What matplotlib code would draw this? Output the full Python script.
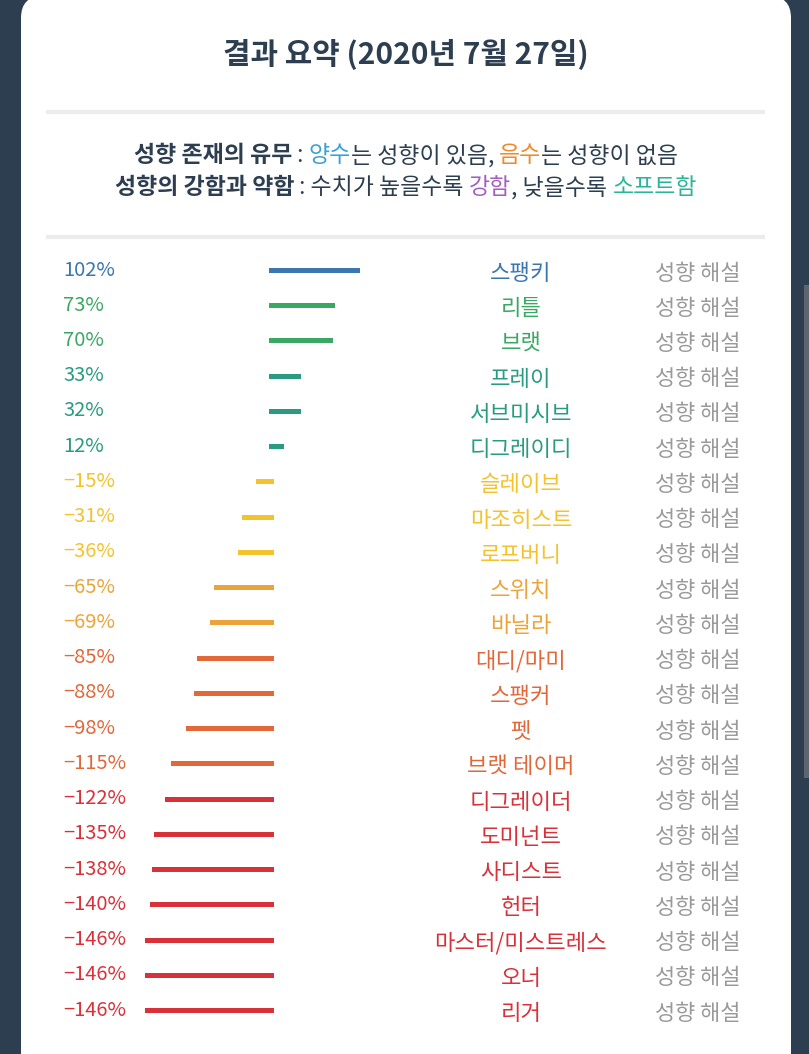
import matplotlib
matplotlib.use('Agg')
import matplotlib.pyplot as plt
import matplotlib.transforms as mtransforms
from matplotlib.patches import FancyBboxPatch, Rectangle

plt.rcParams['font.family'] = ['Noto Sans CJK KR', 'DejaVu Sans']

W, H = 809, 1054

title = '결과 요약 (2020년 7월 27일)'
names = ['스팽키', '리틀', '브랫', '프레이', '서브미시브', '디그레이디',
         '슬레이브', '마조히스트', '로프버니', '스위치', '바닐라',
         '대디/마미', '스팽커', '펫', '브랫 테이머', '디그레이더',
         '도미넌트', '사디스트', '헌터', '마스터/미스트레스', '오너', '리거']
values = [102, 73, 70, 33, 32, 12, -15, -31, -36, -65, -69,
          -85, -88, -98, -115, -122, -135, -138, -140, -146, -146, -146]
link_text = '성향 해설'

# colour per row (style, not data)
blue, green, teal = '#3a77ae', '#3aa862', '#2a9a82'
yellow, amber, orange, red = '#f3c22c', '#eba43a', '#e2683a', '#d8313a'
row_colors = [blue, green, green, teal, teal, teal,
              yellow, yellow, yellow, amber, amber,
              orange, orange, orange, orange,
              red, red, red, red, red, red, red]

navy = '#2c3e50'

fig = plt.figure(figsize=(W / 100, H / 100), dpi=100)
fig.patch.set_facecolor(navy)

# background axes in pixel coordinates
bg = fig.add_axes([0, 0, 1, 1])
bg.set_xlim(0, W)
bg.set_ylim(H, 0)
bg.axis('off')

bg.add_patch(FancyBboxPatch((21, -4), 770, 1100,
                            boxstyle='round,pad=0,rounding_size=22',
                            fc='white', ec='none'))
bg.add_patch(Rectangle((804, 285), 5, 493, fc='#5d6570', ec='none'))

bg.text(406, 55, title, ha='center', va='center', fontsize=21.5,
        fontweight='bold', color=navy)

for yy in (112, 237):
    bg.plot([46, 765], [yy, yy], color='#ececec', lw=3, solid_capstyle='butt')

renderer = fig.canvas.get_renderer()


def text_width(s, **kw):
    # measure with sentinels so leading/trailing spaces count
    a = bg.text(0, 0, 'X' + s + 'X', **kw)
    b = bg.text(0, 0, 'XX', **kw)
    w = a.get_window_extent(renderer).width - b.get_window_extent(renderer).width
    a.remove()
    b.remove()
    return w


def rich_line(y, parts, size=16.5):
    widths = []
    for s, color, weight in parts:
        widths.append(text_width(s, fontsize=size, fontweight=weight))
    x = 406 - sum(widths) / 2
    for (s, color, weight), w in zip(parts, widths):
        bg.text(x, y, s, ha='left', va='center', fontsize=size,
                fontweight=weight, color=color)
        x += w


rich_line(156, [('성향 존재의 유무', navy, 'bold'),
                (' : ', navy, 'normal'),
                ('양수', '#3a9fd6', 'normal'),
                ('는 성향이 있음, ', navy, 'normal'),
                ('음수', '#ef8a2c', 'normal'),
                ('는 성향이 없음', navy, 'normal')])
rich_line(188, [('성향의 강함과 약함', navy, 'bold'),
                (' : 수치가 높을수록 ', navy, 'normal'),
                ('강함', '#a25fc0', 'normal'),
                (', 낮을수록 ', navy, 'normal'),
                ('소프트함', '#2ab59a', 'normal')])

# rows: one axes with percent on x, row index on y
n = len(values)
row_h = 35.24
top = 270 - row_h / 2
zero_px, px_per_pct = 270.5, 0.845
ax = fig.add_axes([0, 1 - (top + n * row_h) / H, 1, n * row_h / H])
ax.set_xlim(-zero_px / px_per_pct, (W - zero_px) / px_per_pct)
ax.set_ylim(n - 0.5, -0.5)
ax.axis('off')

rows = list(range(n))
bars = ax.hlines(rows, 0, values, colors=row_colors, lw=3.6)
bars.set_capstyle('projecting')

trans = mtransforms.blended_transform_factory(bg.transData, ax.transData)
for i, (name, v, c) in enumerate(zip(names, values, row_colors)):
    label = f'{v}%'.replace('-', '−')
    ax.text(63, i, label, transform=trans, ha='left', va='center',
            fontsize=14.5, color=c)
    ax.text(521, i + 0.1, name, transform=trans, ha='center', va='center',
            fontsize=16, color=c)
    ax.text(698, i + 0.1, link_text, transform=trans, ha='center',
            va='center', fontsize=15.8, color='#9a9a9a')

plt.savefig('out.png', dpi=100, facecolor=fig.get_facecolor())
